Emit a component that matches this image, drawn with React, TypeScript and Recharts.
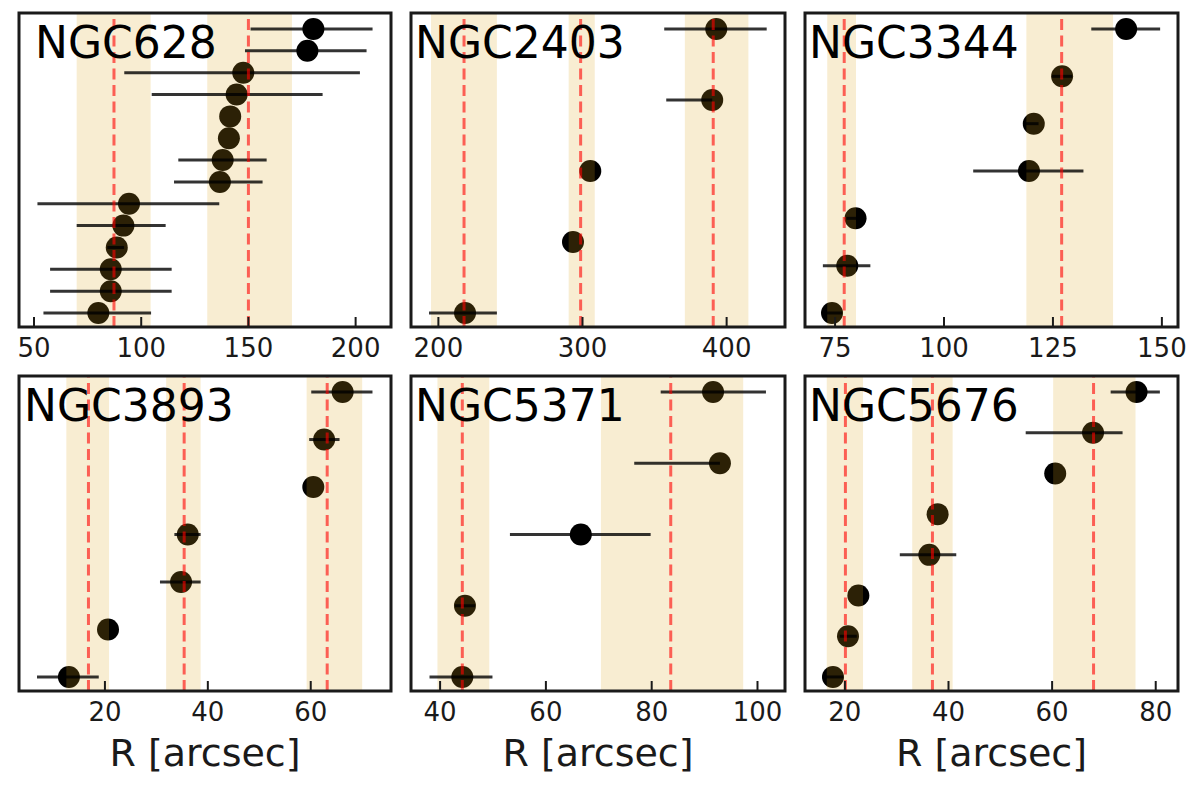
import React from "react";
import {
  ScatterChart,
  Scatter,
  XAxis,
  YAxis,
  ErrorBar,
  ReferenceArea,
  ReferenceLine,
  Label,
} from "recharts";

const FONT = "'DejaVu Sans', Verdana, sans-serif";

// every list runs from the bottom point of a panel to the top one
const ngc628R = [80.0, 85.8, 85.8, 88.6, 91.7, 94.3, 136.7, 138.0, 140.9, 141.5, 144.5, 147.6, 177.5, 180.3];
const ngc628Lo = [25.6, 28.3, 28.3, 4.4, 21.8, 42.7, 21.4, 20.7, 0, 0, 39.6, 55.5, 29.1, 29.3];
const ngc628Hi = [24.6, 28.4, 28.4, 3.4, 19.7, 42.1, 19.9, 20.5, 0, 0, 40.1, 54.4, 27.6, 27.6];
const ngc628Bands = [[69.9, 104.4], [130.8, 170.3]];
const ngc628Lines = [87.3, 150.0];
const ngc628Ticks = [50, 100, 150, 200];

const ngc2403R = [218.5, 293.4, 305.4, 390.0, 392.8];
const ngc2403Lo = [25.0, 0, 0, 31.9, 36.1];
const ngc2403Hi = [22.1, 0, 0, 0, 35.0];
const ngc2403Bands = [[194.9, 240.6], [290.4, 308.5], [371.0, 415.1]];
const ngc2403Lines = [217.8, 298.7, 390.7];
const ngc2403Ticks = [200, 300, 400];

const ngc3344R = [74.3, 77.8, 79.7, 119.5, 120.6, 127.1, 141.8];
const ngc3344Lo = [1.9, 5.6, 2.1, 12.8, 2.3, 2.3, 8.0];
const ngc3344Hi = [2.3, 5.3, 2.3, 12.5, 1.1, 2.3, 7.8];
const ngc3344Bands = [[73.2, 79.8], [118.9, 138.8]];
const ngc3344Lines = [77.1, 127.0];
const ngc3344Ticks = [75, 100, 125, 150];

const ngc3893R = [13.0, 20.6, 34.8, 36.1, 60.5, 62.6, 66.2];
const ngc3893Lo = [6.2, 0, 4.1, 2.6, 0, 2.9, 6.1];
const ngc3893Hi = [5.8, 0, 3.8, 2.5, 0, 3.0, 5.8];
const ngc3893Bands = [[12.5, 20.8], [31.9, 38.6], [59.2, 70.0]];
const ngc3893Lines = [16.8, 35.4, 63.2];
const ngc3893Ticks = [20, 40, 60];

const ngc5371R = [44.2, 44.7, 66.6, 92.9, 91.6];
const ngc5371Lo = [6.2, 1.9, 13.4, 16.2, 9.9];
const ngc5371Hi = [5.7, 1.9, 13.2, 0, 10.0];
const ngc5371Bands = [[39.5, 49.3], [70.4, 97.3]];
const ngc5371Lines = [44.2, 83.6];
const ngc5371Ticks = [40, 60, 80, 100];

const ngc5676R = [17.7, 20.6, 22.6, 36.3, 37.9, 60.6, 67.9, 76.3];
const ngc5676Lo = [1.6, 1.6, 0, 5.7, 0, 0, 13.0, 5.0];
const ngc5676Hi = [2.0, 1.7, 0, 5.2, 0, 0, 5.7, 4.5];
const ngc5676Bands = [[16.5, 23.5], [33.0, 40.8], [60.2, 76.1]];
const ngc5676Lines = [20.1, 36.9, 68.0];
const ngc5676Ticks = [20, 40, 60, 80];

const galaxies = [
  { name: "NGC628", r: ngc628R, lo: ngc628Lo, hi: ngc628Hi, bands: ngc628Bands, lines: ngc628Lines, ticks: ngc628Ticks, domain: [43, 216.5] },
  { name: "NGC2403", r: ngc2403R, lo: ngc2403Lo, hi: ngc2403Hi, bands: ngc2403Bands, lines: ngc2403Lines, ticks: ngc2403Ticks, domain: [181, 440.5] },
  { name: "NGC3344", r: ngc3344R, lo: ngc3344Lo, hi: ngc3344Hi, bands: ngc3344Bands, lines: ngc3344Lines, ticks: ngc3344Ticks, domain: [68.1, 153.7] },
  { name: "NGC3893", r: ngc3893R, lo: ngc3893Lo, hi: ngc3893Hi, bands: ngc3893Bands, lines: ngc3893Lines, ticks: ngc3893Ticks, domain: [3.3, 75.6] },
  { name: "NGC5371", r: ngc5371R, lo: ngc5371Lo, hi: ngc5371Hi, bands: ngc5371Bands, lines: ngc5371Lines, ticks: ngc5371Ticks, domain: [34.5, 105.2] },
  { name: "NGC5676", r: ngc5676R, lo: ngc5676Lo, hi: ngc5676Hi, bands: ngc5676Bands, lines: ngc5676Lines, ticks: ngc5676Ticks, domain: [12.3, 84.3] },
];

// frame boxes of the six panels, in page pixels
const boxes = [
  { left: 19, top: 13, width: 372, height: 314, titleDx: 16, xlabel: false },
  { left: 411, top: 13, width: 374, height: 314, titleDx: 4, xlabel: false },
  { left: 805, top: 13, width: 373, height: 314, titleDx: 4, xlabel: false },
  { left: 19, top: 376, width: 372, height: 315, titleDx: 5, xlabel: true },
  { left: 411, top: 376, width: 374, height: 315, titleDx: 4, xlabel: true },
  { left: 805, top: 376, width: 373, height: 315, titleDx: 4, xlabel: true },
];

const PAD = 10;
const INK = "#1a1a1a";

function InTick(props: any) {
  const { x, y, payload } = props;
  return (
    <g>
      <line x1={x} x2={x} y1={y} y2={y - 10} stroke={INK} strokeWidth={2} />
      <text x={x} y={y + 30} textAnchor="middle" fontSize={26} fontFamily={FONT} fill={INK}>
        {payload.value}
      </text>
    </g>
  );
}

const Dot = (props: any) => <circle cx={props.cx} cy={props.cy} r={11} fill="#000" />;
const NoDot = () => <g />;

function GalaxyPanel({ g, box }: { g: any; box: any }) {
  const n = g.r.length;
  const data = g.r.map((r: number, i: number) => ({ r, i, err: [g.lo[i], g.hi[i]] }));
  const unit = 284 / (n - 1);
  const yDomain = [-14 / unit, n - 1 + 16 / unit];
  const bottom = box.xlabel ? 95 : 45;

  return (
    <div style={{ position: "absolute", left: box.left - PAD, top: box.top - PAD }}>
      <ScatterChart
        width={box.width + 2 * PAD}
        height={box.height + PAD + bottom}
        margin={{ top: PAD, right: PAD, left: PAD, bottom: 0 }}
      >
        <XAxis
          type="number"
          dataKey="r"
          domain={g.domain}
          ticks={g.ticks}
          interval={0}
          allowDataOverflow
          height={bottom}
          axisLine={false}
          tickLine={false}
          tickSize={0}
          tickMargin={0}
          tick={<InTick />}
          label={
            box.xlabel
              ? {
                  content: (p: any) => (
                    <text
                      x={p.viewBox.x + p.viewBox.width / 2}
                      y={p.viewBox.y + 75}
                      textAnchor="middle"
                      fontSize={38}
                      fontFamily={FONT}
                      fill={INK}
                    >
                      R [arcsec]
                    </text>
                  ),
                }
              : undefined
          }
        />
        <YAxis type="number" dataKey="i" domain={yDomain} hide allowDataOverflow />
        <Scatter data={data} shape={Dot} isAnimationActive={false} zIndex={600} />
        {g.bands.map(([a, b]: number[]) => (
          <ReferenceArea
            key={`band-${a}`}
            x1={a}
            x2={b}
            y1={yDomain[0]}
            y2={yDomain[1]}
            fill="goldenrod"
            fillOpacity={0.2}
            stroke="none"
            zIndex={650}
          />
        ))}
        <Scatter data={data} shape={NoDot} isAnimationActive={false} zIndex={700}>
          <ErrorBar
            dataKey="err"
            direction="x"
            width={0}
            stroke="#000"
            strokeOpacity={0.8}
            strokeWidth={3}
            isAnimationActive={false}
            zIndex={700}
          />
        </Scatter>
        {g.lines.map((v: number) => (
          <ReferenceLine
            key={`line-${v}`}
            x={v}
            stroke="red"
            strokeOpacity={0.6}
            strokeWidth={3}
            strokeDasharray="11 5.5"
            zIndex={750}
          />
        ))}
        <ReferenceArea
          x1={g.domain[0]}
          x2={g.domain[1]}
          y1={yDomain[0]}
          y2={yDomain[1]}
          fill="none"
          stroke={INK}
          strokeWidth={3}
          zIndex={800}
        >
          <Label
            content={(p: any) => (
              <text
                x={p.viewBox.x + box.titleDx}
                y={p.viewBox.y + 45}
                fontSize={44}
                fontFamily={FONT}
                fill="#000"
              >
                {g.name}
              </text>
            )}
          />
        </ReferenceArea>
      </ScatterChart>
    </div>
  );
}

export default function App() {
  return (
    <div style={{ position: "absolute", left: 0, top: 0, width: 1200, height: 790, background: "#fff" }}>
      {galaxies.map((g, k) => (
        <GalaxyPanel key={g.name} g={g} box={boxes[k]} />
      ))}
    </div>
  );
}
